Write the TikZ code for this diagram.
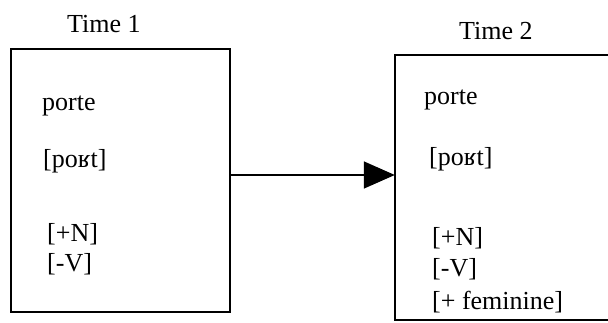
\documentclass[tikz,border=0pt]{standalone}
\usepackage{fontspec}
\setmainfont{Liberation Serif}
\usetikzlibrary{arrows.meta}
\begin{document}
\begin{tikzpicture}[x=1pt,y=-1pt,
  lbl/.style={anchor=base west,inner sep=0pt,font=\fontsize{26}{29}\selectfont},
  boxframe/.style={draw=none,minimum width=#1,inner sep=0pt},
  edge/.style={line width=1.8pt},
  conn/.style={line width=1.6pt,-{Triangle[length=31pt,width=27pt]}}]
\useasboundingbox (0,0) rectangle (608,322);
% Box 1
\node[draw,line width=1.8pt,minimum width=219pt,minimum height=263pt,inner sep=0pt] (b1) at (120.5,180.5) {};
% Box 2 (right edge mostly lost)
\node[boxframe=213pt,minimum height=265pt] (b2) at (501.5,187.5) {};
\draw[edge] (b2.north east) -- (b2.north west) -- (b2.south west) -- (b2.south east);
\draw[line width=1pt,gray,dash pattern=on 2pt off 1pt] ([yshift=-42pt]b2.south east) -- (b2.south east);
% titles
\node[lbl] (t1) at (67,32) {Time 1};
\node[lbl] (t2) at (459,39) {Time 2};
% box 1 texts
\node[lbl] (p1) at (42,110) {porte};
\node[lbl] (ph1) at (43,167) {[po\char"0281t]};
\node[lbl] (n1) at (47,241) {[+N]};
\node[lbl] (v1) at (47,271) {[-V]};
% box 2 texts
\node[lbl] (p2) at (424,104) {porte};
\node[lbl] (ph2) at (429,165) {[po\char"0281t]};
\node[lbl] (n2) at (432,245) {[+N]};
\node[lbl] (v2) at (432,276) {[-V]};
\node[lbl] (f2) at (432,309) {[+ feminine]};
% arrow
\coordinate (a1) at (b1.east |- 0,175);
\coordinate (a2) at (b2.west |- 0,175);
\draw[conn] (a1) -- (a2);
\end{tikzpicture}
\end{document}
